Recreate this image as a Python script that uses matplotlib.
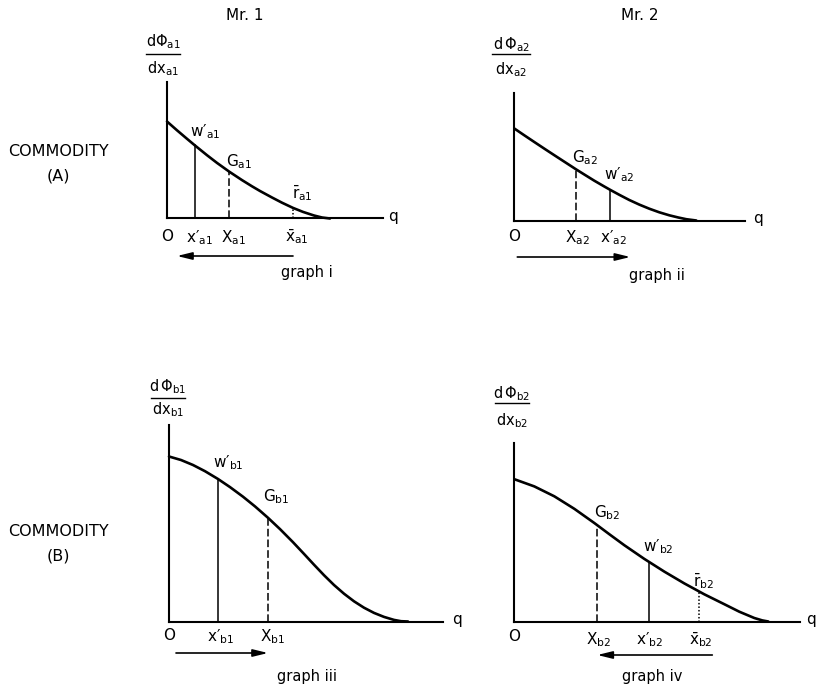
import matplotlib
matplotlib.use('Agg')
import numpy as np
import matplotlib.pyplot as plt
from matplotlib.lines import Line2D

W, H = 821, 688
plt.rcParams['font.family'] = ['DejaVu Sans']
plt.rcParams['mathtext.default'] = 'regular'

# ---------------- data ----------------
# graph i : commodity A, Mr. 1
q_a1 = [0, 10, 20, 28, 40, 50, 62, 75, 85, 93, 105, 115, 126, 136, 147, 155, 163]
v_a1 = [97, 88.2, 79.7, 73, 63.3, 55.6, 47, 38.4, 32.2, 27.5, 21, 15.8, 10.6, 6.6, 3, 1, 0]
x_w_a1, x_G_a1, x_r_a1 = 28, 62, 126
arrow_a1 = (126, 10)          # from -> to

# graph ii : commodity A, Mr. 2
q_a2 = [0, 10, 20, 31, 40, 50, 62, 70, 80, 90, 96, 105, 115, 125, 135, 145, 155, 164, 172, 182]
v_a2 = [92, 85.2, 78.5, 71.2, 65.3, 58.8, 51, 46, 39.8, 34, 30.6, 25.7, 20.5, 15.9, 11.8, 8.2, 5.2, 3, 1.3, 0]
x_G_a2, x_w_a2 = 62, 95.5
arrow_a2 = (3, 116)

# graph iii : commodity B, Mr. 1
q_b1 = [0, 12, 24, 36, 49, 61, 74, 86, 99, 111, 124, 135, 145, 155, 165, 175, 185,
        195, 205, 215, 225, 232, 239]
v_b1 = [165, 161.5, 156.5, 150.3, 142.5, 134.4, 124.8, 115.1, 103.7, 92.4, 79.3, 67.6,
        56.8, 46.3, 36.5, 27.8, 20.2, 13.8, 8.6, 4.6, 1.6, 0.3, 0]
x_w_b1, x_G_b1 = 49.3, 98.7
arrow_b1 = (7, 99)

# graph iv : commodity B, Mr. 2
q_b2 = [0, 20, 40, 60, 80, 95, 110, 130, 150, 170, 190, 210, 225, 240, 248, 254]
v_b2 = [142.3, 135.1, 125.2, 112.7, 98.5, 87.3, 76.3, 62.6, 49.9, 38.1, 27.2, 17.3, 9.8, 3.5, 1.1, 0]
x_G_b2, x_w_b2, x_r_b2 = 82.3, 134.7, 184.7
arrow_b2 = (198, 83)

# ---------------- figure ----------------
fig = plt.figure(figsize=(W / 100, H / 100), dpi=100)
fig.patch.set_facecolor('white')

def fpos(x, y):
    return x / W, 1 - y / H

def make_axes(ox, oy, xend, ytop):
    ax = fig.add_axes([ox / W, 1 - oy / H, xend / W, ytop / H])
    ax.set_xlim(0, xend)
    ax.set_ylim(0, ytop)
    ax.patch.set_alpha(0)
    for s in ('top', 'right'):
        ax.spines[s].set_visible(False)
    for s in ('left', 'bottom'):
        ax.spines[s].set_linewidth(1.5)
    ax.set_xticks([])
    ax.set_yticks([])
    return ax

LBL = 11
def vline(ax, q, v, x, style):
    top = np.interp(x, q, v)
    ax.plot([x, x], [0, top], color='black', lw=1.1, linestyle=style,
            clip_on=False)

def curve(ax, q, v):
    ax.plot(q, v, color='black', lw=1.9, clip_on=False,
            solid_capstyle='round', solid_joinstyle='round')

def arrow(ax, a, y):
    ax.annotate('', xy=(a[1], y), xytext=(a[0], y),
                arrowprops=dict(arrowstyle='-|>,head_length=0.9,head_width=0.22',
                                lw=1.2, color='black', shrinkA=0, shrinkB=0),
                annotation_clip=False)

def txt(ax, x, y, s, size=LBL, **kw):
    ax.text(x, y, s, fontsize=size, ha='center', va='center', **kw)

def frac(cx, y_num, y_line, y_den, num, den, half=17):
    fig.text(*fpos(cx, y_num), num, fontsize=10.5, ha='center', va='center')
    fig.text(*fpos(cx, y_den), den, fontsize=10.5, ha='center', va='center')
    x0, yl = fpos(cx - half, y_line)
    x1, _ = fpos(cx + half, y_line)
    fig.add_artist(Line2D([x0, x1], [yl, yl], color='black', lw=1.0))

DASH = (0, (5, 2))
DOT = (0, (1, 1.3))
P = '\u2032'   # prime sign

# ---- graph i ----
ax = make_axes(167, 218.5, 216, 136.5)
curve(ax, q_a1, v_a1)
vline(ax, q_a1, v_a1, x_w_a1, '-')
vline(ax, q_a1, v_a1, x_G_a1, DASH)
vline(ax, q_a1, v_a1, x_r_a1, DOT)
txt(ax, 38, 86.5, "$w" + P + "_{a1}$")
txt(ax, 72, 56.5, r"$G_{a1}$")
txt(ax, 135, 25.5, r"$\bar{r}_{a1}$")
txt(ax, 0, -18.5, "O")
txt(ax, 32, -19.5, "$x" + P + "_{a1}$")
txt(ax, 66, -19.5, r"$X_{a1}$")
txt(ax, 130, -18.5, r"$\bar{x}_{a1}$")
txt(ax, 226, 2, "q")
arrow(ax, arrow_a1, -37.5)
txt(ax, 140, -54.5, "graph i", size=10.5)
frac(163, 42, 54, 69, r"$d\Phi_{a1}$", r"$dx_{a1}$")

# ---- graph ii ----
ax = make_axes(514.3, 220.5, 231, 127.5)
curve(ax, q_a2, v_a2)
vline(ax, q_a2, v_a2, x_G_a2, DASH)
vline(ax, q_a2, v_a2, x_w_a2, '-')
txt(ax, 70.7, 62.5, r"$G_{a2}$")
txt(ax, 104.7, 45.5, "$w" + P + "_{a2}$")
txt(ax, 0, -16, "O")
txt(ax, 62.7, -17.5, r"$X_{a2}$")
txt(ax, 98.7, -17.5, "$x" + P + "_{a2}$")
txt(ax, 244, 2, "q")
arrow(ax, arrow_a2, -36.5)
txt(ax, 142.7, -54.5, "graph ii", size=10.5)
frac(511, 45, 54, 70, r"$d\,\Phi_{a2}$", r"$dx_{a2}$", half=19)

# ---- graph iii ----
ax = make_axes(169, 621.5, 274, 196.5)
curve(ax, q_b1, v_b1)
vline(ax, q_b1, v_b1, x_w_b1, '-')
vline(ax, q_b1, v_b1, x_G_b1, DASH)
txt(ax, 59, 158.5, "$w" + P + "_{b1}$")
txt(ax, 107, 124.5, r"$G_{b1}$")
txt(ax, 0, -14, "O")
txt(ax, 52, -15.5, "$x" + P + "_{b1}$")
txt(ax, 104, -15.5, r"$X_{b1}$")
txt(ax, 288, 2, "q")
arrow(ax, arrow_b1, -31.5)
txt(ax, 138, -54.5, "graph iii", size=10.5)
frac(168, 387, 398, 410, r"$d\,\Phi_{b1}$", r"$dx_{b1}$")

# ---- graph iv ----
ax = make_axes(514.3, 621.5, 286, 178.5)
curve(ax, q_b2, v_b2)
vline(ax, q_b2, v_b2, x_G_b2, DASH)
vline(ax, q_b2, v_b2, x_w_b2, '-')
vline(ax, q_b2, v_b2, x_r_b2, DOT)
txt(ax, 92.7, 108.5, r"$G_{b2}$")
txt(ax, 143.7, 74.5, "$w" + P + "_{b2}$")
txt(ax, 189, 40, r"$\bar{r}_{b2}$")
txt(ax, 0, -15, "O")
txt(ax, 84.7, -18.5, r"$X_{b2}$")
txt(ax, 135.7, -18.5, "$x" + P + "_{b2}$")
txt(ax, 186.7, -18.5, r"$\bar{x}_{b2}$")
txt(ax, 297, 2, "q")
arrow(ax, arrow_b2, -33.5)
txt(ax, 137.7, -55.5, "graph iv", size=10.5)
frac(512, 394, 403, 421, r"$d\,\Phi_{b2}$", r"$dx_{b2}$")

# ---- headings ----
fig.text(*fpos(245, 15), "Mr. 1", fontsize=11, ha='center', va='center')
fig.text(*fpos(640, 15), "Mr. 2", fontsize=11, ha='center', va='center')
fig.text(*fpos(58, 151), "COMMODITY", fontsize=11.5, ha='center', va='center')
fig.text(*fpos(58, 176), "(A)", fontsize=11.5, ha='center', va='center')
fig.text(*fpos(58, 531), "COMMODITY", fontsize=11.5, ha='center', va='center')
fig.text(*fpos(58, 556), "(B)", fontsize=11.5, ha='center', va='center')

fig.savefig('out.png', dpi=100, facecolor='white')
